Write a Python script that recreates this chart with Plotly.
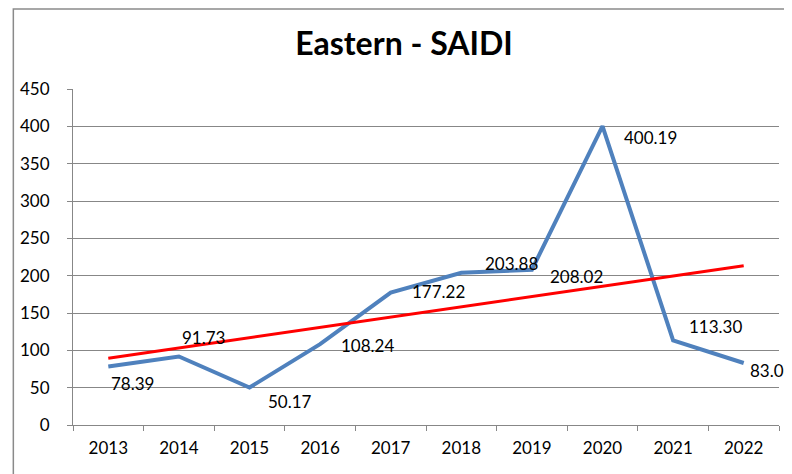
import numpy as np
import plotly.graph_objects as go

years = ["2013", "2014", "2015", "2016", "2017", "2018", "2019", "2020", "2021", "2022"]
saidi = [78.39, 91.73, 50.17, 108.24, 177.22, 203.88, 208.02, 400.19, 113.30, 83.08]
y_ticks = [0, 50, 100, 150, 200, 250, 300, 350, 400, 450]
title_text = "Eastern - SAIDI"

# label offsets (pixels) relative to each point
label_dx = [24, 25, 40, 47, 48, 50, 45, 48, 42, 28]
label_dy = [-17, 19, -14, -1, 1, 9, -7, -11, 14, -8]

# linear trendline (least squares) from the data
xi = np.arange(1, len(saidi) + 1)
slope, intercept = np.polyfit(xi, saidi, 1)
trend = slope * xi + intercept

FONT = "Lato"
GRID = "#878787"

fig = go.Figure()
fig.add_trace(go.Scatter(x=years, y=saidi, mode="lines",
                         line=dict(color="#4F81BD", width=4), hoverinfo="skip"))
fig.add_trace(go.Scatter(x=years, y=trend, mode="lines",
                         line=dict(color="#FF0000", width=3), hoverinfo="skip"))

for i, (v, dx, dy) in enumerate(zip(saidi, label_dx, label_dy)):
    fig.add_annotation(x=i, y=v, text=f"{v:.2f}", showarrow=False,
                       xanchor="center", yanchor="middle", xshift=dx, yshift=dy,
                       font=dict(family=FONT, size=17, color="#000000"))

# outer chart border (page has an 8px body margin)
L, T = 61, 81
PW, PH = 710, 336
fig.add_shape(type="rect", xref="paper", yref="paper",
              x0=(1 - L) / PW, x1=1.3, y0=-0.5, y1=(T + PH - 1) / PH,
              line=dict(color="#8a8a8a", width=1.5), fillcolor="rgba(0,0,0,0)", layer="below")

fig.update_layout(
    width=792, height=474,
    margin=dict(l=L, r=792 - L - PW, t=T, b=474 - T - PH),
    paper_bgcolor="white", plot_bgcolor="white",
    showlegend=False,
    title=dict(text=f"<b>{title_text}</b>", x=396 / 792, xref="container", xanchor="center",
               y=1 - 36 / 474, yref="container", yanchor="middle",
               font=dict(family=FONT, size=32, color="#000000")),
    xaxis=dict(type="category", showgrid=False, showline=True, linecolor=GRID, linewidth=1,
               ticks="outside", ticklen=5, tickcolor=GRID, tickson="boundaries",
               tickfont=dict(family=FONT, size=17, color="#000000"),
               ticklabelstandoff=8, range=[-0.5, 9.5], zeroline=False),
    yaxis=dict(range=[0, 450], tickvals=y_ticks, showgrid=True, gridcolor=GRID, gridwidth=1,
               showline=True, linecolor=GRID, linewidth=1, ticks="outside", ticklen=5,
               tickcolor=GRID, zeroline=False,
               tickfont=dict(family=FONT, size=17, color="#000000"), ticklabelstandoff=14),
)

fig.write_html("out.html")
